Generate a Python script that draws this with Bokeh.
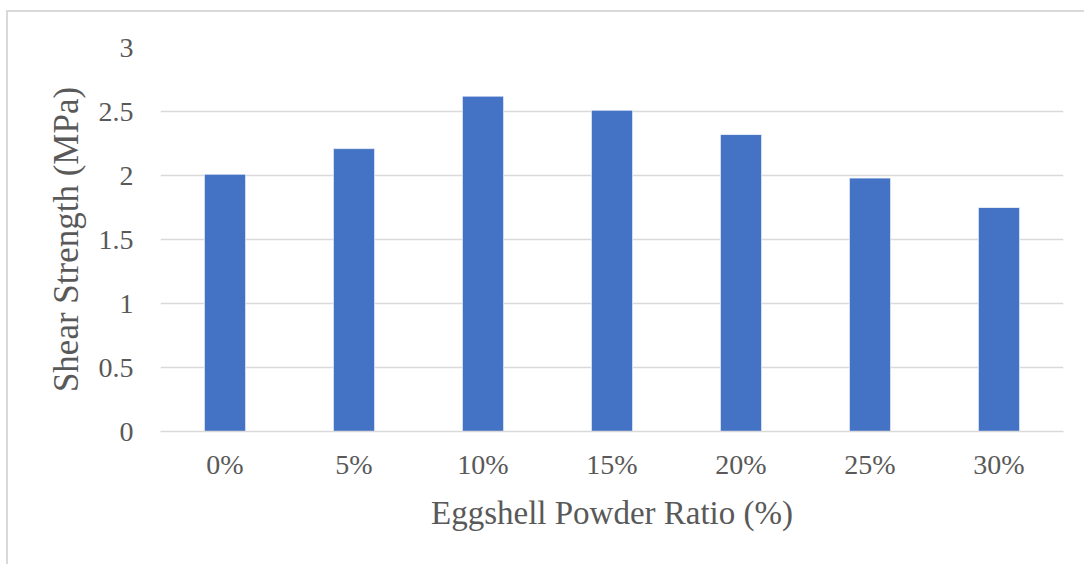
from bokeh.plotting import figure
from bokeh.models import FactorRange, Range1d, FixedTicker, ColumnDataSource
from bokeh.embed import file_html
from bokeh.resources import INLINE

# Shear strength for each eggshell powder ratio
ratios = ["0%", "5%", "10%", "15%", "20%", "25%", "30%"]
shear_mpa = [2.01, 2.21, 2.62, 2.51, 2.32, 1.98, 1.75]
y_ticks = [0, 0.5, 1, 1.5, 2, 2.5, 3]

FONT = "Liberation Serif"
TEXT = "#595959"
GRID = "#d9d9d9"

src = ColumnDataSource(dict(ratio=ratios, shear=shear_mpa))

p = figure(
    x_range=FactorRange(*ratios, range_padding=0.0),
    y_range=Range1d(0, 3),
    width=1078, height=554,
    min_border_left=152, min_border_right=23,
    min_border_top=35, min_border_bottom=135,
    output_backend="svg", toolbar_location=None,
)
# thin grey frame around the whole chart
p.styles = {
    "margin-left": "6px", "margin-top": "10px",
    "border-left": f"2px solid {GRID}", "border-top": f"2px solid {GRID}",
}

p.vbar(x="ratio", top="shear", width=0.32, source=src,
       fill_color="#4472C4", line_color="white", line_width=1, line_alpha=0.7)

p.outline_line_color = None
p.background_fill_color = "white"
p.border_fill_color = "white"

# horizontal gridlines only
p.xgrid.grid_line_color = None
p.ygrid.ticker = FixedTicker(ticks=y_ticks)
p.ygrid.grid_line_color = GRID
p.ygrid.grid_line_width = 1.6

# y axis
p.yaxis.ticker = FixedTicker(ticks=y_ticks)
p.yaxis.axis_line_color = None
p.yaxis.major_tick_line_color = None
p.yaxis.minor_tick_line_color = None
p.yaxis.major_tick_out = 0
p.yaxis.major_label_standoff = 27
p.yaxis.major_label_text_font = FONT
p.yaxis.major_label_text_font_size = "28px"
p.yaxis.major_label_text_color = TEXT
p.yaxis.axis_label = "Shear Strength (MPa)"
p.yaxis.axis_label_text_font = FONT
p.yaxis.axis_label_text_font_size = "35px"
p.yaxis.axis_label_text_font_style = "normal"
p.yaxis.axis_label_text_color = TEXT
p.yaxis.axis_label_standoff = 10

# x axis
p.xaxis.axis_line_color = GRID
p.xaxis.axis_line_width = 1.6
p.xaxis.major_tick_line_color = None
p.xaxis.minor_tick_line_color = None
p.xaxis.major_tick_out = 0
p.xaxis.major_label_standoff = 17
p.xaxis.major_label_text_font = FONT
p.xaxis.major_label_text_font_size = "28px"
p.xaxis.major_label_text_color = TEXT
p.xaxis.axis_label = "Eggshell Powder Ratio (%)"
p.xaxis.axis_label_text_font = FONT
p.xaxis.axis_label_text_font_size = "33px"
p.xaxis.axis_label_text_font_style = "normal"
p.xaxis.axis_label_text_color = TEXT
p.xaxis.axis_label_standoff = 12

open("out.html", "w").write(file_html(p, INLINE))
